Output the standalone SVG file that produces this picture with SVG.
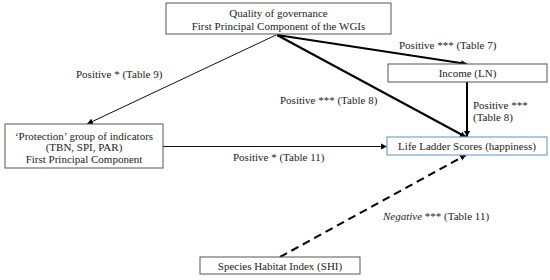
<svg xmlns="http://www.w3.org/2000/svg" width="550" height="280" viewBox="0 0 550 280" font-family="'Liberation Serif', 'DejaVu Serif', serif" font-size="11">
<defs>
<style>
text{font-family:'Liberation Serif','DejaVu Serif',serif;font-size:11px;fill:#222}
.box{fill:#fff;stroke:#555;stroke-width:1}
.blue{fill:#fff;stroke:#7aa6c8;stroke-width:1.2}
.thin{stroke:#111;stroke-width:1;fill:none}
.thick{stroke:#000;stroke-width:2;fill:none}
.dash{stroke:#000;stroke-width:2;fill:none;stroke-dasharray:8,5}
</style>
<marker id="ah" markerWidth="8" markerHeight="8" refX="6" refY="3.5" orient="auto" markerUnits="userSpaceOnUse">
<path d="M0,0.5 L6,3.5 L0,6.5 Z" fill="#000"/>
</marker>
</defs>
<g id="connectors">
<line class="thin" x1="276" y1="35" x2="87" y2="124" marker-end="url(#ah)"/>
<line class="thick" x1="277" y1="35" x2="467" y2="64" marker-end="url(#ah)"/>
<line class="thick" x1="277" y1="35" x2="466" y2="137" marker-end="url(#ah)"/>
<line class="thick" x1="467" y1="82" x2="467" y2="137" marker-end="url(#ah)"/>
<line class="thin" x1="163" y1="146.5" x2="387" y2="146.5" marker-end="url(#ah)"/>
<line class="dash" x1="280" y1="257" x2="466" y2="155" marker-end="url(#ah)"/>
</g>
<g id="governance">
<rect class="box" x="166" y="3" width="225" height="31"/>
<text x="278.5" y="17" text-anchor="middle">Quality of governance</text>
<text x="278.5" y="30" text-anchor="middle">First Principal Component of the WGIs</text>
</g>
<g id="income">
<rect class="box" x="388" y="64" width="159" height="18"/>
<text x="467.5" y="77" text-anchor="middle">Income (LN)</text>
</g>
<g id="protection">
<rect class="box" x="5" y="124" width="158" height="44"/>
<text x="84" y="139.5" text-anchor="middle">‘Protection’ group of indicators</text>
<text x="84" y="151" text-anchor="middle">(TBN, SPI, PAR)</text>
<text x="84" y="162.5" text-anchor="middle">First Principal Component</text>
</g>
<g id="lifeladder">
<rect class="blue" x="387" y="137" width="160" height="18"/>
<text x="467" y="150" text-anchor="middle">Life Ladder Scores (happiness)</text>
</g>
<g id="shi">
<rect class="box" x="200" y="257" width="160" height="17"/>
<text x="280" y="269.5" text-anchor="middle">Species Habitat Index (SHI)</text>
</g>
<g id="labels">
<text x="399" y="49">Positive *** (Table 7)</text>
<text x="280" y="104">Positive *** (Table 8)</text>
<text x="473" y="109">Positive ***</text>
<text x="473" y="121">(Table 8)</text>
<text x="76" y="78">Positive * (Table 9)</text>
<text x="233" y="161">Positive * (Table 11)</text>
<text x="383" y="220"><tspan font-style="italic">Negative</tspan> *** (Table 11)</text>
</g>
</svg>
